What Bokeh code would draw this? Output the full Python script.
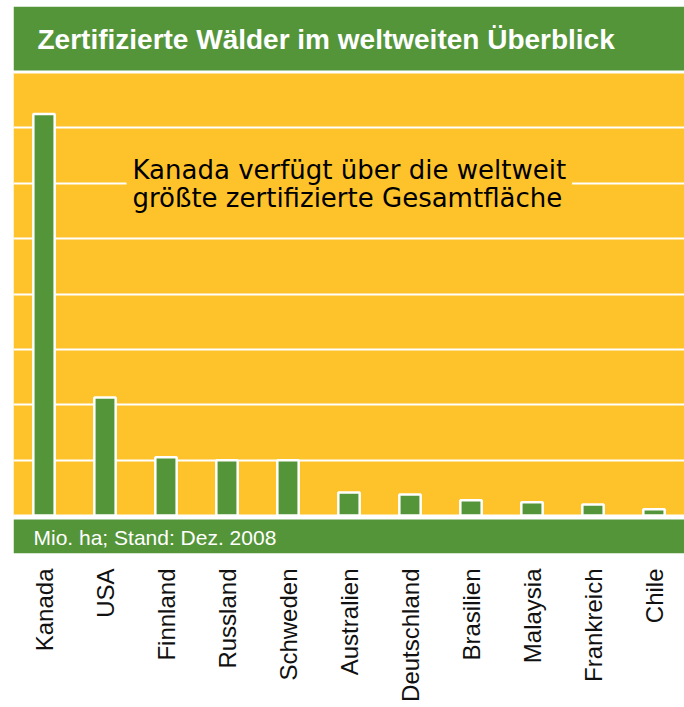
import math
from bokeh.plotting import figure
from bokeh.models import Range1d, FactorRange, FixedTicker, Label
from bokeh.embed import file_html
from bokeh.resources import INLINE

# ---- data ----
countries = ["Kanada", "USA", "Finnland", "Russland", "Schweden", "Australien",
             "Deutschland", "Brasilien", "Malaysia", "Frankreich", "Chile"]
values = [145, 42.6, 21, 20, 20, 8.3, 7.6, 5.5, 4.8, 4.0, 2.3]
yticks = [0, 20, 40, 60, 80, 100, 120, 140, 160]
title_text = "Zertifizierte Wälder im weltweiten Überblick"
note_text = "Mio. ha; Stand: Dez. 2008"
annot_text = "Kanada verfügt über die weltweit\ngrößte zertifizierte Gesamtfläche"

GREEN = "#55953A"
YELLOW = "#FEC32A"

# ---- layout geometry (pixels) ----
W, H = 684, 707
LEFT, TOP, BOTTOM = 13, 6, 154
frame_w = W - LEFT
frame_h = H - TOP - BOTTOM
zero_px = 515          # canvas y of value 0
top_px = 72            # canvas y of top tick
frame_bottom_px = TOP + frame_h
scale = (zero_px - top_px) / (yticks[-1] - yticks[0])
y_start = -(frame_bottom_px - zero_px) / scale
y_end = (zero_px - TOP) / scale
ncat = len(countries)
xscale = frame_w / ncat


def ydat(px):
    return (zero_px - px) / scale


def xdat(px):
    return (px - LEFT) / xscale


p = figure(width=W, height=H, x_range=FactorRange(*countries, range_padding=0),
           y_range=Range1d(y_start, y_end), output_backend="svg",
           toolbar_location=None, y_axis_location=None,
           min_border_left=LEFT, min_border_right=0, min_border_top=TOP,
           min_border_bottom=BOTTOM, outline_line_color=None,
           background_fill_color="white", border_fill_color="white")

# yellow plot panel (under the grid)
p.quad(left=[0], right=[ncat], bottom=[yticks[0]], top=[yticks[-1]],
       fill_color=YELLOW, line_color=None, level="image")

# white grid lines
p.ygrid.ticker = FixedTicker(ticks=yticks)
p.ygrid.grid_line_color = "white"
p.ygrid.grid_line_width = 2
p.xgrid.visible = False

# title band and bottom band
p.quad(left=[0], right=[ncat], bottom=[ydat(70)], top=[y_end],
       fill_color=GREEN, line_color=None)
p.quad(left=[0], right=[ncat], bottom=[y_start], top=[ydat(519)],
       fill_color=GREEN, line_color=None)

# bars
p.vbar(x=countries, top=values, bottom=0, width=0.35, fill_color=GREEN,
       line_color="white", line_width=2.5)

# x axis
ax = p.xaxis[0]
ax.axis_line_color = None
ax.major_tick_line_color = None
ax.minor_tick_line_color = None
ax.major_label_orientation = math.pi / 2
ax.major_label_standoff = 9
ax.major_label_text_font = "Liberation Sans"
ax.major_label_text_font_size = "24px"
ax.major_label_text_color = "#111111"

# title
p.add_layout(Label(x=xdat(37), y=ydat(39), text=title_text,
                   text_font="Liberation Sans", text_font_style="bold",
                   text_font_size="28px", text_color="white",
                   text_baseline="middle", text_align="left"))

# bottom note
p.add_layout(Label(x=xdat(33), y=ydat(537), text=note_text,
                   text_font="Liberation Sans", text_font_size="21px",
                   text_color="white", text_baseline="middle",
                   text_align="left"))

# annotation
p.add_layout(Label(x=xdat(126), y=ydat(148), text=annot_text,
                   text_font="DejaVu Sans", text_font_size="26px",
                   text_color="black", text_baseline="top",
                   text_align="left", text_line_height=0.95,
                   background_fill_color=YELLOW, padding=6))

open("out.html", "w").write(file_html(p, INLINE))
